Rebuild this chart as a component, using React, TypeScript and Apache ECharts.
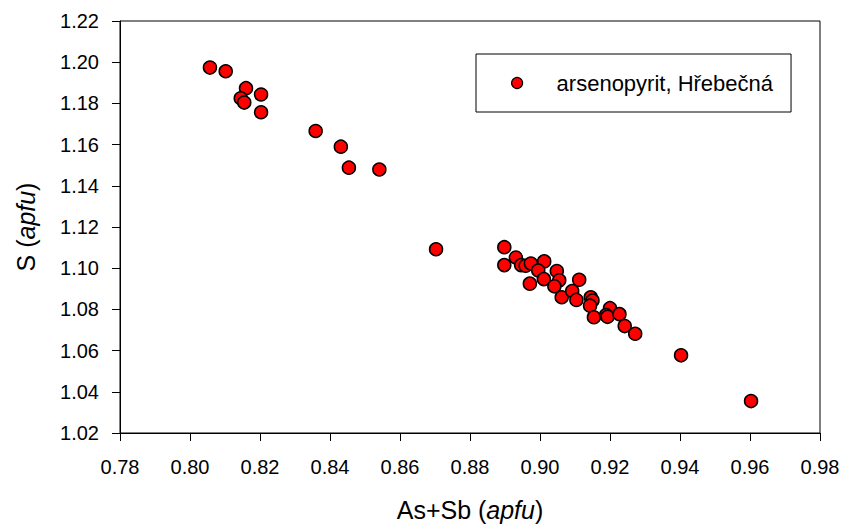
import React, { useEffect, useRef } from "react";
import * as echarts from "echarts";

const seriesName = "arsenopyrit, Hřebečná";
const xTitle = "As+Sb";
const yTitle = "S";
const unit = "apfu";

const asSb = [
  0.8057, 0.8102, 0.816, 0.8203, 0.8145, 0.8155, 0.8203, 0.8359, 0.8431, 0.8454, 0.8541,
  0.8703, 0.8898, 0.8898, 0.8931, 0.8946, 0.8959, 0.8974, 0.9012, 0.8995, 0.8971, 0.9011,
  0.9048, 0.9055, 0.9041, 0.9062, 0.9112, 0.9092, 0.9104, 0.9145, 0.915, 0.9143, 0.9154,
  0.92, 0.9189, 0.9193, 0.9227, 0.9242, 0.9272, 0.9403, 0.9603,
];
const sVals = [
  1.1974, 1.1956, 1.1874, 1.1843, 1.1825, 1.1804, 1.1757, 1.1666, 1.159, 1.1488, 1.1479,
  1.1092, 1.1102, 1.1015, 1.1052, 1.1015, 1.1012, 1.1023, 1.1033, 1.0989, 1.0925, 1.0947,
  1.0986, 1.0941, 1.0912, 1.0859, 1.0944, 1.0889, 1.0846, 1.0859, 1.0843, 1.0818, 1.0762,
  1.0806, 1.0773, 1.0764, 1.0777, 1.0719, 1.0682, 1.0577, 1.0355,
];

const FONT = "'Liberation Sans', Arial, sans-serif";

export default function App() {
  const ref = useRef<HTMLDivElement>(null);
  useEffect(() => {
    if (!ref.current) return;
    const chart = echarts.init(ref.current, null, { renderer: "svg" });
    const data = asSb.map((x, i) => [x, sVals[i]]);
    chart.setOption({
      animation: false,
      backgroundColor: "#ffffff",
      textStyle: { fontFamily: FONT, color: "#000" },
      grid: {
        left: 120,
        right: 24,
        top: 21,
        bottom: 92,
        show: true,
        borderColor: "#000",
        borderWidth: 1,
        backgroundColor: "transparent",
      },
      legend: {
        left: 476,
        top: 54,
        orient: "horizontal",
        borderColor: "#000",
        borderWidth: 1,
        padding: [18, 18, 18, 35],
        itemWidth: 11,
        itemHeight: 11,
        icon: "circle",
        itemStyle: { color: "#ff0000", borderColor: "#000", borderWidth: 1.2 },
        textStyle: { fontSize: 22, fontFamily: FONT, color: "#000", padding: [0, 0, 0, 29] },
        data: [seriesName],
      },
      xAxis: {
        type: "value",
        min: 0.78,
        max: 0.98,
        interval: 0.02,
        name: `{n|${xTitle} (}{i|${unit}}{n|)}`,
        nameLocation: "middle",
        nameGap: 64,
        nameTextStyle: {
          fontSize: 25,
          fontFamily: FONT,
          color: "#000",
          rich: {
            n: { fontStyle: "normal", fontSize: 25, fontFamily: FONT, color: "#000" },
            i: { fontStyle: "italic", fontSize: 25, fontFamily: FONT, color: "#000" },
          },
        },
        axisLine: { show: true, onZero: false, lineStyle: { color: "#000", width: 1 } },
        axisTick: { show: true, inside: false, length: 8, lineStyle: { color: "#000" } },
        axisLabel: {
          fontSize: 20,
          color: "#000",
          margin: 24,
          fontFamily: FONT,
          formatter: (v: number) => v.toFixed(2),
        },
        splitLine: { show: false },
      },
      yAxis: {
        type: "value",
        min: 1.02,
        max: 1.22,
        interval: 0.02,
        name: `{n|${yTitle} (}{i|${unit}}{n|)}`,
        nameLocation: "middle",
        nameGap: 82,
        nameTextStyle: {
          fontSize: 25,
          fontFamily: FONT,
          color: "#000",
          rich: {
            n: { fontStyle: "normal", fontSize: 25, fontFamily: FONT, color: "#000" },
            i: { fontStyle: "italic", fontSize: 25, fontFamily: FONT, color: "#000" },
          },
        },
        axisLine: { show: true, onZero: false, lineStyle: { color: "#000", width: 1 } },
        axisTick: { show: true, inside: false, length: 8, lineStyle: { color: "#000" } },
        axisLabel: {
          fontSize: 20,
          color: "#000",
          margin: 21,
          fontFamily: FONT,
          formatter: (v: number) => v.toFixed(2),
        },
        splitLine: { show: false },
      },
      series: [
        {
          name: seriesName,
          type: "scatter",
          symbol: "circle",
          symbolSize: 13,
          itemStyle: { color: "#ff0000", borderColor: "#000", borderWidth: 1.5, opacity: 1 },
          data,
        },
      ],
    });
    return () => chart.dispose();
  }, []);
  return (
    <div
      ref={ref}
      style={{ position: "fixed", left: 0, top: 0, width: 844, height: 527, background: "#fff" }}
    />
  );
}
